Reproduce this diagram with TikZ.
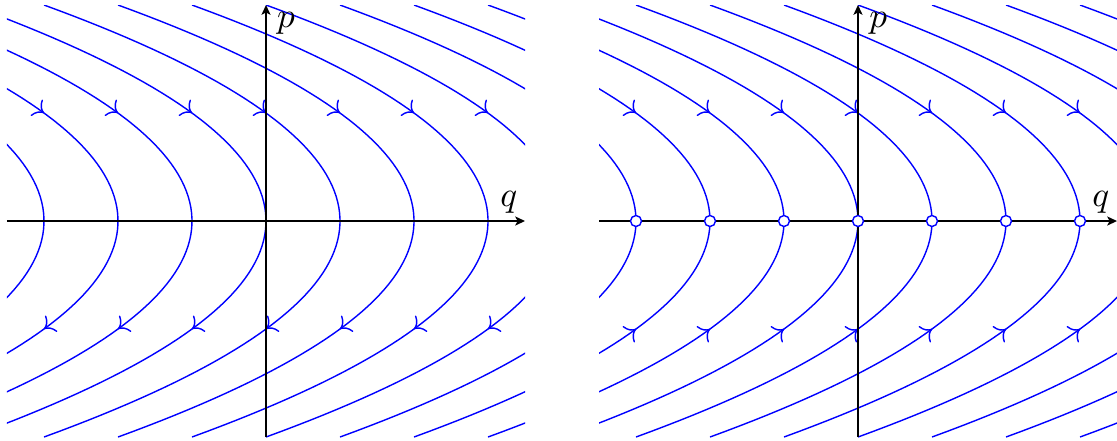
\documentclass[tikz,border=0pt]{standalone}
\usetikzlibrary{arrows.meta}
\begin{document}
\begin{tikzpicture}[x=0.74cm,y=1.08cm,
  flow/.style={blue,line width=0.4pt},
  flowtip/.style={blue,line width=0.4pt,-{To[scale=1.1]}},
  axisline/.style={black,line width=0.4pt,-{Stealth[length=2.8pt,width=2.6pt,inset=0.7pt]}},
  fixpt/.style={circle,draw=blue,fill=white,line width=0.4pt,minimum size=0.11cm,inner sep=0pt},
  axlabel/.style={inner sep=2pt}]
\useasboundingbox (-3.5946,-2.0278) rectangle (11.5,2.0463);
% ---------- panel 1 ----------
\begin{scope}
  \begin{scope}
    \clip (-3.5,-2) rectangle (3.5,2);
    \foreach \c in {-3,...,7} {
      \draw[flow] plot[domain=-2:2,samples=80,variable=\t] ({\c-(\t)*(\t)},{\t});
    }
  \end{scope}
  \foreach \c in {-2,...,4} {
    \draw[flowtip] ({\c-1.0201},1.01) -- ({\c-1},1);
    \draw[flowtip] ({\c-0.9801},-0.99) -- ({\c-1},-1);
  }
  \coordinate (xa1) at (-3.5,0);
  \coordinate (xb1) at (3.5,0);
  \coordinate (ya1) at (0,-2);
  \coordinate (yb1) at (0,2);
  \draw[axisline] (xa1) -- (xb1) node[axlabel,above left] (q1) {$q$};
  \draw[axisline] (ya1) -- (yb1) node[axlabel,below right,xshift=1pt] (p1) {$p$};
\end{scope}
% ---------- panel 2 ----------
\begin{scope}[xshift=5.92cm]
  \begin{scope}
    \clip (-3.5,-2) rectangle (3.5,2);
    \foreach \c in {-3,...,7} {
      \draw[flow] plot[domain=-2:2,samples=80,variable=\t] ({\c-(\t)*(\t)},{\t});
    }
  \end{scope}
  \foreach \c in {-2,...,4} {
    \draw[flowtip] ({\c-1.0201},1.01) -- ({\c-1},1);
    \draw[flowtip] ({\c-1.0201},-1.01) -- ({\c-1},-1);
  }
  \coordinate (xa2) at (-3.5,0);
  \coordinate (xb2) at (3.5,0);
  \coordinate (ya2) at (0,-2);
  \coordinate (yb2) at (0,2);
  \draw[axisline] (xa2) -- (xb2) node[axlabel,above left] (q2) {$q$};
  \draw[axisline] (ya2) -- (yb2) node[axlabel,below right,xshift=1pt] (p2) {$p$};
  \foreach \c in {-3,...,3} {
    \node[fixpt] (f\c) at (\c,0) {};
  }
\end{scope}
\end{tikzpicture}
\end{document}
